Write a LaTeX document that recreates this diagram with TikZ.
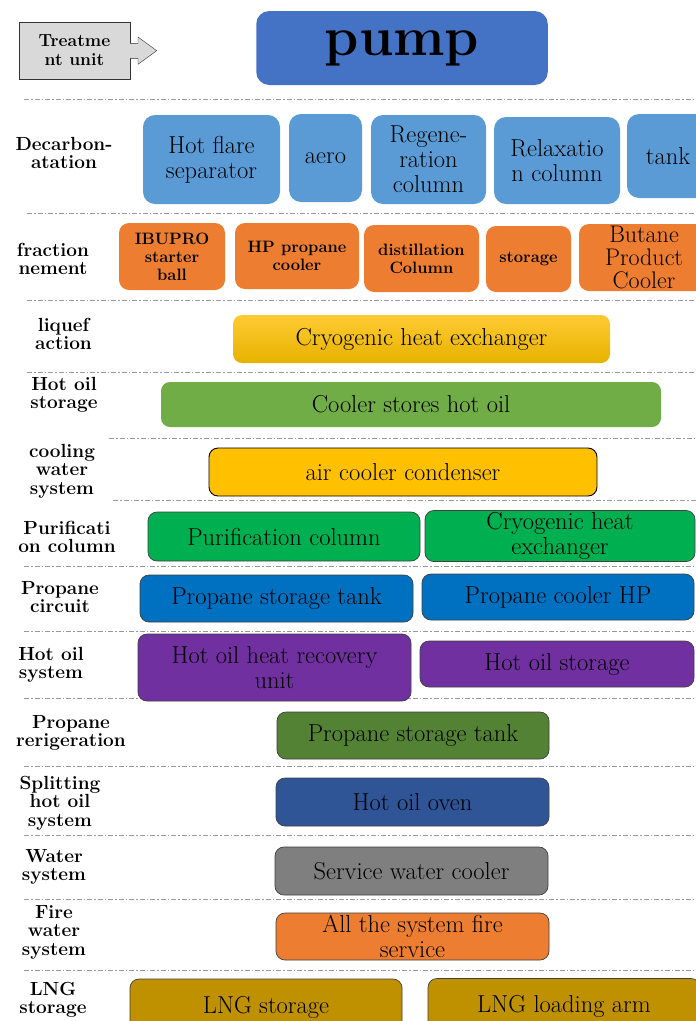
\documentclass[tikz,border=0pt]{standalone}
\usepackage{fontspec}
\usepackage{tikz}

\definecolor{pumpblue}{HTML}{4472C4}
\definecolor{decblue}{HTML}{5B9BD5}
\definecolor{fracorange}{HTML}{ED7D31}
\definecolor{goldtop}{HTML}{FFCB33}
\definecolor{goldbot}{HTML}{E6B200}
\definecolor{gold}{HTML}{FFC000}
\definecolor{oilgreen}{HTML}{70AD47}
\definecolor{purgreen}{HTML}{00B050}
\definecolor{propblue}{HTML}{0070C0}
\definecolor{hotpurple}{HTML}{7030A0}
\definecolor{refgreen}{HTML}{548235}
\definecolor{ovenblue}{HTML}{2F5597}
\definecolor{watergray}{HTML}{7F7F7F}
\definecolor{lngolive}{HTML}{BF9000}
\definecolor{treatgray}{HTML}{D9D9D9}

\begin{document}
\begin{tikzpicture}[x=1pt, y=-1pt,
    unitbox/.style={rounded corners=9pt, align=center, inner sep=2pt,
        font=\fontsize{24.5}{25}\selectfont},
    edgebox/.style={unitbox, draw=black!75, line width=0.7pt},
    fracbox/.style={unitbox, rounded corners=10pt,
        font=\bfseries\fontsize{16.5}{18}\selectfont},
    rowlab/.style={align=center, font=\bfseries\fontsize{19}{18.5}\selectfont},
    sepline/.style={gray!80, line width=0.9pt, dash pattern=on 5pt off 2pt on 1.5pt off 2pt}]
  \clip (0,0) rectangle (696,1021);
  \fill[white] (0,0) rectangle (696,1021);

  % header
  \node[draw=black!80, fill=treatgray, minimum width=111pt, minimum height=57pt,
        rowlab, font=\bfseries\fontsize{17.5}{19}\selectfont] (treat) at (74.5,50.5) {Treatme\\nt unit};
  \draw[black!80, fill=treatgray, line join=miter] (130,43.3) -- (138,43.3) -- (138,37)
        -- (156.7,50.7) -- (138,64.3) -- (138,58.3) -- (130,58.3);
  \node[unitbox, rounded corners=13pt, fill=pumpblue, minimum width=291.5pt,
        minimum height=74pt, font=\bfseries\fontsize{55}{56}\selectfont] (pump) at (402,48) {pump};

  % separators
  \foreach \y/\x in {99.5/24,213/27,300/27,372/27,438/109,500/113,566/24,631/24,698/24,766/24,835/24,899/24,970/24}{
      \draw[sepline] (\x,\y) -- (696,\y);
  }

  % decarbonatation
  \node[rowlab] (ldec) at (64,153) {Decarbon-\\atation};
  \node[unitbox, rounded corners=12pt, fill=decblue, minimum width=137pt, minimum height=89pt] (hfs) at (211.5,159.5) {Hot flare\\separator};
  \node[unitbox, rounded corners=12pt, fill=decblue, minimum width=73pt, minimum height=88pt] (aero) at (325.5,158) {aero};
  \node[unitbox, rounded corners=12pt, fill=decblue, minimum width=115pt, minimum height=89pt] (regen) at (428.5,159.5) {Regene-\\ration\\column};
  \node[unitbox, rounded corners=12pt, fill=decblue, minimum width=126pt, minimum height=87pt] (relax) at (557,160.5) {Relaxatio\\n column};
  \node[unitbox, rounded corners=12pt, fill=decblue, minimum width=82pt, minimum height=84pt] (tank) at (668,156) {tank};

  % fractionnement
  \node[rowlab] (lfrac) at (53,259) {fraction\\nement};
  \node[fracbox, fill=fracorange, minimum width=106pt, minimum height=67pt] (ibu) at (172,256.5) {IBUPRO\\starter\\ball};
  \node[fracbox, fill=fracorange, minimum width=124pt, minimum height=66pt] (hpc) at (297,256) {HP propane\\cooler};
  \node[fracbox, fill=fracorange, minimum width=115pt, minimum height=67pt] (dist) at (421.5,258.5) {distillation\\Column};
  \node[fracbox, fill=fracorange, minimum width=85pt, minimum height=66pt] (stor) at (528.5,259) {storage};
  \node[unitbox, rounded corners=10pt, fill=fracorange, minimum width=130pt, minimum height=67pt,
        font=\fontsize{24}{23}\selectfont] (butane) at (644,257.5) {Butane\\Product\\Cooler};

  % liquefaction
  \node[rowlab] (lliq) at (63.5,334) {liquef\\action};
  \node[unitbox, top color=goldtop, bottom color=goldbot, minimum width=377pt, minimum height=48pt] (cryo) at (421.5,339) {Cryogenic heat exchanger};

  % hot oil storage
  \node[rowlab] (lhos) at (64,395) {Hot oil\\storage};
  \node[unitbox, fill=oilgreen, minimum width=500pt, minimum height=45pt] (cooler) at (411,404.5) {Cooler stores hot oil};

  % cooling water
  \node[rowlab] (lcool) at (62,471) {cooling\\water\\system};
  \node[unitbox, draw=black, line width=0.9pt, fill=gold, minimum width=388pt, minimum height=48pt] (aircool) at (403,472) {air cooler condenser};

  % purification
  \node[rowlab] (lpur) at (67,537) {Purificati\\on column};
  \node[edgebox, fill=purgreen, minimum width=272pt, minimum height=49pt] (purcol) at (284,536.5) {Purification column};
  \node[edgebox, fill=purgreen, minimum width=270pt, minimum height=48pt] (cryo2) at (560,536) {Cryogenic heat\\exchanger};

  % propane circuit
  \node[rowlab] (lprop) at (60,597) {Propane\\circuit};
  \node[edgebox, fill=propblue, minimum width=273pt, minimum height=47pt] (pst) at (276.5,598.5) {Propane storage tank};
  \node[edgebox, fill=propblue, minimum width=272pt, minimum height=46pt] (pch) at (558,597) {Propane cooler HP};

  % hot oil system
  \node[rowlab] (lhot) at (51,665) {Hot oil\\system};
  \node[edgebox, fill=hotpurple, minimum width=273pt, minimum height=67pt] (hohr) at (274.5,667.5) {Hot oil heat recovery\\unit};
  \node[edgebox, fill=hotpurple, minimum width=274pt, minimum height=46pt] (hos) at (557,664) {Hot oil storage};

  % propane refrigeration
  \node[rowlab] (lref) at (71,733) {Propane\\rerigeration};
  \node[edgebox, fill=refgreen, minimum width=272pt, minimum height=47pt] (pst2) at (413,735.5) {Propane storage tank};

  % splitting hot oil
  \node[rowlab] (lspl) at (60,803) {Splitting\\hot oil\\system};
  \node[edgebox, fill=ovenblue, minimum width=273pt, minimum height=48pt] (oven) at (412.5,802) {Hot oil oven};

  % water system
  \node[rowlab] (lwat) at (54,867) {Water\\system};
  \node[edgebox, fill=watergray, minimum width=273pt, minimum height=48pt] (swc) at (411.5,871) {Service water cooler};

  % fire water
  \node[rowlab] (lfire) at (54,932) {Fire\\water\\system};
  \node[edgebox, fill=fracorange, minimum width=273pt, minimum height=47pt] (fire) at (412.5,936.5) {All the system fire\\service};

  % LNG storage
  \node[rowlab] (llng) at (53,1000) {LNG\\storage};
  \node[edgebox, fill=lngolive, minimum width=272pt, minimum height=56pt] (lngs) at (266,1007) {LNG storage};
  \node[edgebox, fill=lngolive, minimum width=272pt, minimum height=56pt] (lnga) at (564,1006.5) {LNG loading arm};
\end{tikzpicture}
\end{document}
